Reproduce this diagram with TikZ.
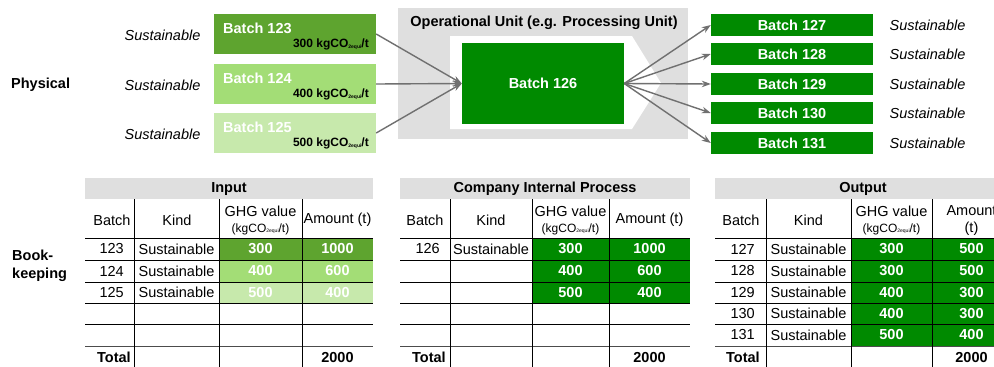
\documentclass[tikz,border=0pt]{standalone}
\usepackage{fontspec}
\setmainfont{Liberation Sans}
\usetikzlibrary{arrows.meta}
\definecolor{gA}{HTML}{5EA42F}
\definecolor{gB}{HTML}{A3DD76}
\definecolor{gC}{HTML}{C7E9AC}
\definecolor{gD}{HTML}{008A00}
\definecolor{opgray}{HTML}{DFDFDF}
\definecolor{arrgray}{HTML}{707070}
\newcommand{\subeq}{\raisebox{-0.6pt}{\fontsize{5}{5}\selectfont 2equi}}
\tikzset{
  base/.style={font=\fontsize{14.5}{17}\selectfont, inner sep=0pt},
  bf/.style={base, font=\fontsize{14.5}{17}\selectfont\bfseries},
  it/.style={base, font=\fontsize{14.5}{17}\selectfont\itshape},
  wbf/.style={bf, text=white},
  smallbf/.style={inner sep=0pt, font=\fontsize{12}{14}\selectfont\bfseries},
  small/.style={inner sep=0pt, font=\fontsize{12}{14}\selectfont},
  batchbox/.style={inner sep=0pt, minimum width=162pt},
  flow/.style={draw=arrgray, line width=1.4pt, -{Stealth[length=9pt,width=6.5pt]}},
  tline/.style={draw=black, line width=0.9pt},
  hdr/.style={fill=opgray},
}
\begin{document}
\begin{tikzpicture}[x=1pt,y=-1pt]
\useasboundingbox (0,0) rectangle (994,367);
\clip (0,0) rectangle (994,367);
\fill[white] (0,0) rectangle (994,367);

% ---------- Physical ----------
\node[bf, anchor=west] (phys) at (11,85) {Physical};

\node[it] (s123) at (162.5,35) {Sustainable};
\node[it] (s124) at (162.5,85) {Sustainable};
\node[it] (s125) at (162.5,134) {Sustainable};

\node[batchbox, fill=gA, minimum height=40pt] (b123) at (295,34) {};
\node[batchbox, fill=gB, minimum height=40pt] (b124) at (295,84) {};
\node[batchbox, fill=gC, minimum height=40pt] (b125) at (295,133) {};
\node[wbf, anchor=base west] (t123) at (223,33) {Batch 123};
\node[wbf, anchor=base west] (t124) at (223,83) {Batch 124};
\node[wbf, anchor=base west] (t125) at (223,132) {Batch 125};
\node[smallbf, anchor=base east] (v123) at (369,47.5) {300 kgCO\subeq/t};
\node[smallbf, anchor=base east] (v124) at (369,97.5) {400 kgCO\subeq/t};
\node[smallbf, anchor=base east] (v125) at (369,146.5) {500 kgCO\subeq/t};

% operational unit
\fill[opgray] (398,8) rectangle (688,139);
\node[bf] (opunit) at (544,23) {Operational Unit (e.g. Processing Unit)};
\fill[white] (450,36) -- (632,36) -- (661,83) -- (632,129) -- (450,129) -- cycle;
\node[batchbox, fill=gD, minimum height=81pt, text=white, font=\fontsize{14.5}{17}\selectfont\bfseries] (b126) at (543,83.5) {Batch 126};

% outputs
\foreach \n/\y in {127/25,128/54,129/84,130/113,131/143}{
  \node[batchbox, fill=gD, minimum height=22pt, text=white, font=\fontsize{14.5}{17}\selectfont\bfseries] (b\n) at (792,\y) {Batch \n};
  \node[it] (s\n) at (927.5,\y) {Sustainable};
}

% arrows
\draw[flow] (b123.east) -- (b126.west);
\draw[flow] (b124.east) -- (b126.west);
\draw[flow] (b125.east) -- (b126.west);
\foreach \n in {127,128,129,130,131}{
  \draw[flow] (b126.east) -- (b\n.west);
}

% ---------- Bookkeeping ----------
\node[anchor=west, align=left, inner sep=0pt, font=\fontsize{14.5}{18}\selectfont\bfseries] (bk) at (12,266) {Book-\\keeping};

% ===== Input table =====
\fill[opgray] (85,178) rectangle (373,199);
\fill[gA] (219,238) rectangle (373,260);
\fill[gB] (219,260) rectangle (373,282);
\fill[gC] (219,282) rectangle (373,303);
\foreach \y in {238,260,282,303,324} \draw[tline] (85,\y) -- (373,\y);
\draw[tline, draw=black!70] (85,346) -- (373,346);
\foreach \x in {134,219,302} \draw[tline] (\x,199) -- (\x,367);
\node[bf] (inH) at (229,189) {Input};
\node[base] (inB) at (112,220) {Batch};
\node[base] (inK) at (177,220) {Kind};
\node[base] (inG) at (260.5,211) {GHG value};
\node[small] (inU) at (260.5,229) {(kgCO\subeq/t)};
\node[base] (inA) at (337.5,220) {Amount (t)};
\foreach \b/\y/\g/\a in {123/249/300/1000,124/271/400/600,125/292.5/500/400}{
  \node[base, anchor=east] (inb\b) at (124,\y) {\b};
  \node[base] (ink\b) at (176.5,\y) {Sustainable};
  \node[wbf] (ing\b) at (260.5,\y) {\g};
  \node[wbf] (ina\b) at (337.5,\y) {\a};
}
\node[bf, anchor=west] (inT) at (97,357.5) {Total};
\node[bf] (inTA) at (337.5,357.5) {2000};

% ===== Company table =====
\fill[opgray] (400,178) rectangle (690,199);
\fill[gD] (532,238) rectangle (690,303);
\foreach \y in {238,260,282,303,324} \draw[tline] (400,\y) -- (690,\y);
\draw[tline, draw=black!70] (400,346) -- (690,346);
\foreach \x in {450,532,609} \draw[tline] (\x,199) -- (\x,367);
\node[bf] (cpH) at (545,189) {Company Internal Process};
\node[base] (cpB) at (425,220) {Batch};
\node[base] (cpK) at (491,220) {Kind};
\node[base] (cpG) at (570.5,211) {GHG value};
\node[small] (cpU) at (570.5,229) {(kgCO\subeq/t)};
\node[base] (cpA) at (649.5,220) {Amount (t)};
\node[base, anchor=east] (cpb126) at (440,249) {126};
\node[base] (cpk126) at (491,249) {Sustainable};
\foreach \i/\y/\g/\a in {1/249/300/1000,2/271/400/600,3/292.5/500/400}{
  \node[wbf] (cpg\i) at (570.5,\y) {\g};
  \node[wbf] (cpa\i) at (649.5,\y) {\a};
}
\node[bf, anchor=west] (cpT) at (412,357.5) {Total};
\node[bf] (cpTA) at (649.5,357.5) {2000};

% ===== Output table =====
\fill[opgray] (715,178) rectangle (1011,199);
\fill[gD] (851,238) rectangle (1011,346);
\foreach \y in {238,260,282,303,324} \draw[tline] (715,\y) -- (1011,\y);
\draw[tline, draw=black!70] (715,346) -- (1011,346);
\foreach \x in {766,851,932} \draw[tline] (\x,199) -- (\x,367);
\node[bf] (ouH) at (863,189) {Output};
\node[base] (ouB) at (741,220) {Batch};
\node[base] (ouK) at (808.5,220) {Kind};
\node[base] (ouG) at (891.5,211) {GHG value};
\node[small] (ouU) at (891.5,229) {(kgCO\subeq/t)};
\node[base] (ouA1) at (971.5,211) {Amount};
\node[base] (ouA2) at (971.5,229) {(t)};
\foreach \b/\y/\g/\a in {127/249/300/500,128/271/300/500,129/292.5/400/300,130/313.5/400/300,131/335/500/400}{
  \node[base, anchor=east] (oub\b) at (755,\y) {\b};
  \node[base] (ouk\b) at (808.5,\y) {Sustainable};
  \node[wbf] (oug\b) at (891.5,\y) {\g};
  \node[wbf] (oua\b) at (971.5,\y) {\a};
}
\node[bf, anchor=west] (ouT) at (726,357.5) {Total};
\node[bf] (ouTA) at (971.5,357.5) {2000};
\end{tikzpicture}
\end{document}
